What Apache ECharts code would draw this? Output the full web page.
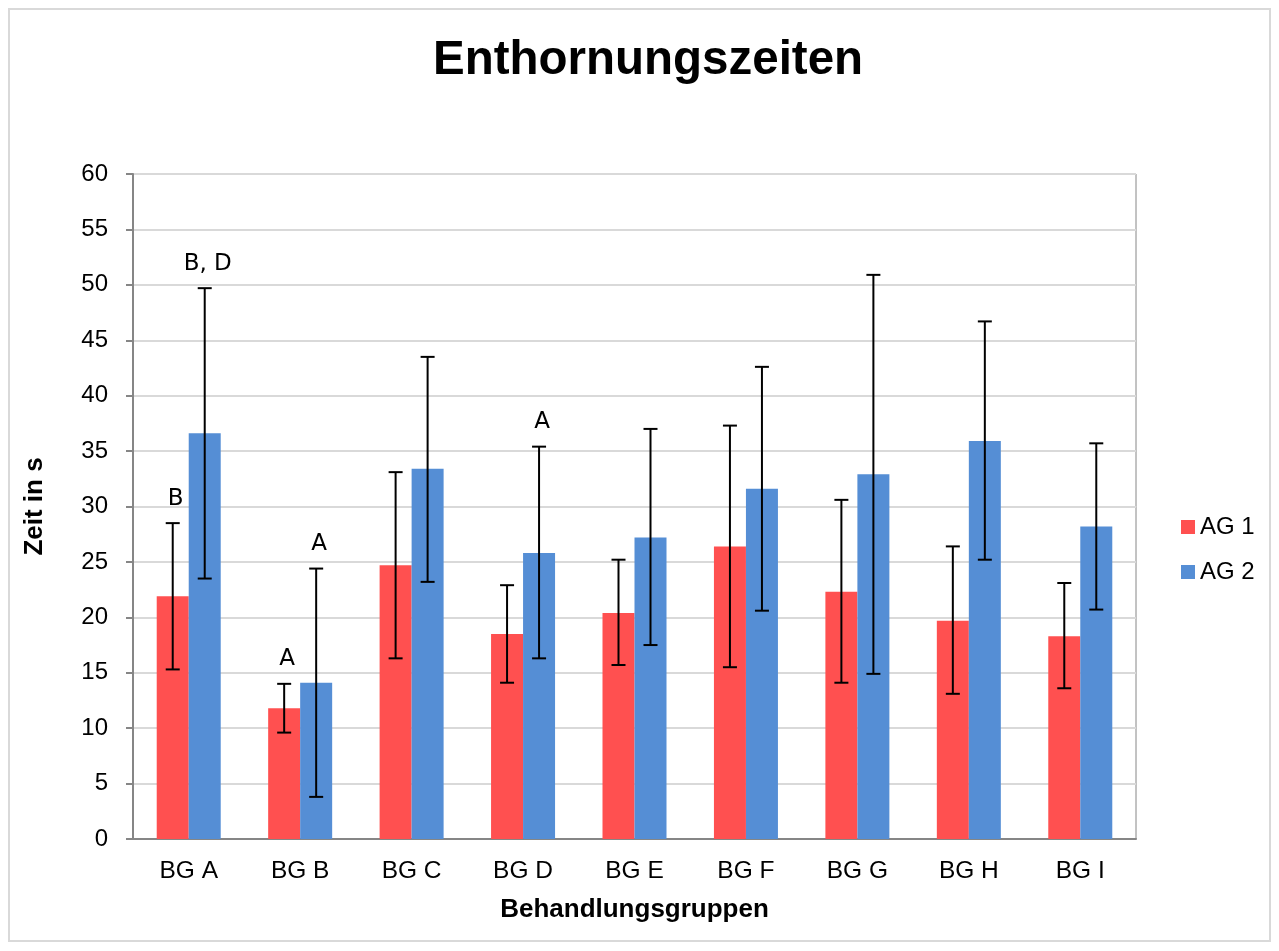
<!DOCTYPE html>
<html>
<head>
<meta charset="utf-8">
<script src="https://cdn.jsdelivr.net/npm/echarts@6/dist/echarts.min.js"></script>
<style>
  html, body { margin: 0; padding: 0; background: #fff; }
  #chart { width: 1279px; height: 951px; }
</style>
</head>
<body>
<div id="chart"></div>
<script>
// Werte
var groups = ['BG A', 'BG B', 'BG C', 'BG D', 'BG E', 'BG F', 'BG G', 'BG H', 'BG I'];
var ag1 = [21.9, 11.8, 24.7, 18.5, 20.4, 26.4, 22.3, 19.7, 18.3];
var ag2 = [36.6, 14.1, 33.4, 25.8, 27.2, 31.6, 32.9, 35.9, 28.2];
var ag1Low  = [15.3, 9.6, 16.3, 14.1, 15.7, 15.5, 14.1, 13.1, 13.6];
var ag1High = [28.5, 14.0, 33.1, 22.9, 25.2, 37.3, 30.6, 26.4, 23.1];
var ag2Low  = [23.5, 3.8, 23.2, 16.3, 17.5, 20.6, 14.9, 25.2, 20.7];
var ag2High = [49.7, 24.4, 43.5, 35.4, 37.0, 42.6, 50.9, 46.7, 35.7];
var ag1Letters = ['B', 'A', '', '', '', '', '', '', ''];
var ag2Letters = ['B, D', 'A', '', 'A', '', '', '', '', ''];
var yTicks = { min: 0, max: 60, interval: 5 };

var barW = 32;

var chart = echarts.init(document.getElementById('chart'));

function errData(low, high) {
  var out = [];
  for (var i = 0; i < groups.length; i++) {
    out.push([i, low[i], high[i]]);
  }
  return out;
}

function errRenderer(side, letters) {
  return function (params, api) {
    var i = api.value(0);
    var lo = api.coord([i, api.value(1)]);
    var hi = api.coord([i, api.value(2)]);
    var x = lo[0] + side * barW / 2;
    var cap = 7;
    var st = { stroke: '#000', lineWidth: 2 };
    var children = [
      { type: 'line', shape: { x1: x, y1: hi[1], x2: x, y2: lo[1] }, style: st },
      { type: 'line', shape: { x1: x - cap, y1: hi[1], x2: x + cap, y2: hi[1] }, style: st },
      { type: 'line', shape: { x1: x - cap, y1: lo[1], x2: x + cap, y2: lo[1] }, style: st }
    ];
    var txt = letters[params.dataIndex];
    if (txt) {
      children.push({
        type: 'text',
        style: {
          text: txt, x: x + 3, y: hi[1] - 13,
          align: 'center', verticalAlign: 'bottom',
          font: '23px "DejaVu Sans"', fill: '#000'
        }
      });
    }
    return { type: 'group', children: children };
  };
}

var option = {
  backgroundColor: '#fff',
  animation: false,
  title: {
    text: 'Enthornungszeiten',
    left: 428,
    top: 32,
    textStyle: { fontFamily: 'Liberation Sans', fontSize: 47.5, fontWeight: 'bold', color: '#000' }
  },
  graphic: [{
    type: 'rect',
    shape: { x: 9, y: 9, width: 1261, height: 932 },
    style: { fill: 'none', stroke: '#d9d9d9', lineWidth: 2 }
  }],
  legend: {
    orient: 'vertical',
    left: 1176,
    top: 510,
    itemWidth: 14,
    itemHeight: 14,
    itemGap: 21,
    icon: 'rect',
    data: ['AG 1', 'AG 2'],
    textStyle: { fontFamily: 'Liberation Sans', fontSize: 24, color: '#000' }
  },
  grid: {
    left: 133, right: 143, top: 174, bottom: 112,
    show: true, borderColor: '#868686', borderWidth: 1
  },
  xAxis: {
    type: 'category',
    data: groups,
    name: 'Behandlungsgruppen',
    nameLocation: 'middle',
    nameGap: 58,
    nameTextStyle: { fontFamily: 'Liberation Sans', fontSize: 26, fontWeight: 'bold', color: '#000' },
    axisLine: { lineStyle: { color: '#868686', width: 2 } },
    axisTick: { length: 6, lineStyle: { color: '#868686', width: 2 } },
    axisLabel: { fontFamily: 'Liberation Sans', fontSize: 24.5, color: '#000', margin: 20 }
  },
  yAxis: {
    type: 'value',
    min: yTicks.min,
    max: yTicks.max,
    interval: yTicks.interval,
    name: 'Zeit in s',
    nameLocation: 'middle',
    nameGap: 85,
    nameTextStyle: { fontFamily: 'Liberation Sans', fontSize: 26, fontWeight: 'bold', color: '#000' },
    axisLine: { show: true, lineStyle: { color: '#868686', width: 2 } },
    axisTick: { show: true, length: 7, lineStyle: { color: '#868686', width: 2 } },
    axisLabel: { fontFamily: 'Liberation Sans', fontSize: 24, color: '#000', margin: 25 },
    splitLine: { lineStyle: { color: '#d9d9d9', width: 2 } }
  },
  series: [
    {
      name: 'AG 1', type: 'bar', data: ag1,
      barWidth: barW, barGap: '0%',
      itemStyle: { color: '#ff5050' }
    },
    {
      name: 'AG 2', type: 'bar', data: ag2,
      barWidth: barW, barGap: '0%',
      itemStyle: { color: '#558ed5' }
    },
    {
      type: 'custom', name: 'err1', silent: true,
      renderItem: errRenderer(-1, ag1Letters),
      data: errData(ag1Low, ag1High),
      z: 10
    },
    {
      type: 'custom', name: 'err2', silent: true,
      renderItem: errRenderer(1, ag2Letters),
      data: errData(ag2Low, ag2High),
      z: 10
    }
  ]
};

chart.setOption(option);
</script>
</body>
</html>
